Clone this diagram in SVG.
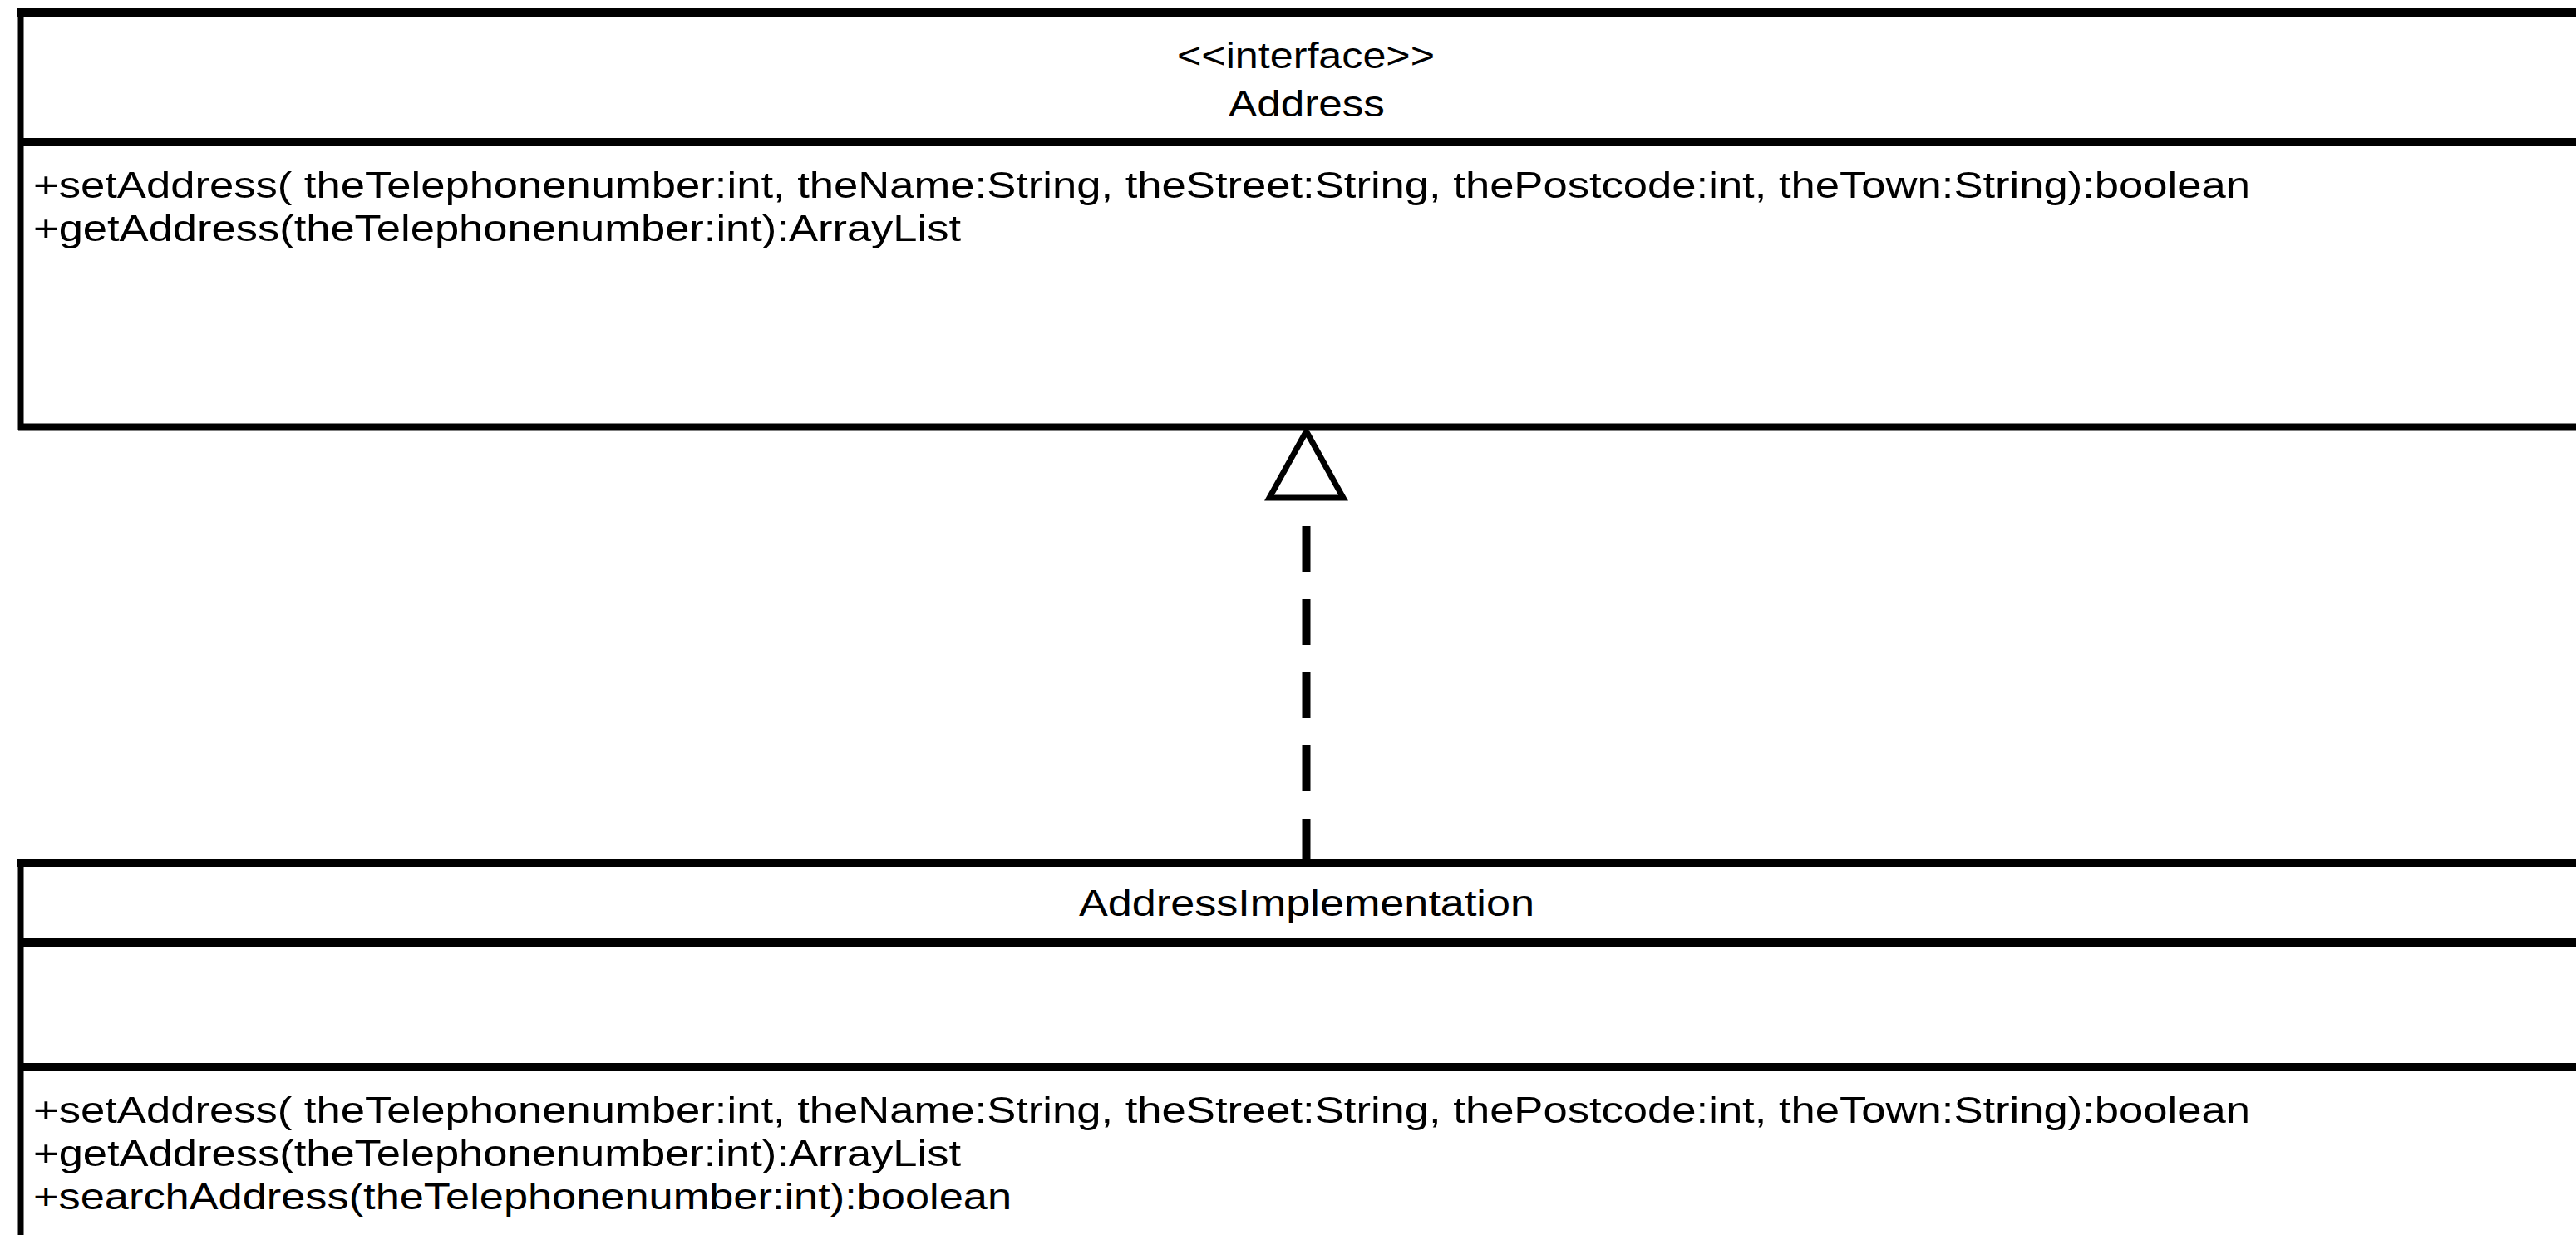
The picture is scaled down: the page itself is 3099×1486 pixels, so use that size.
<svg xmlns="http://www.w3.org/2000/svg" width="3099" height="1486" viewBox="0 0 3099 1486">
  <style>
    .edge { stroke: #000; stroke-width: 10; fill: none; }
    .side { stroke: #000; stroke-width: 7; fill: none; }
    .txt { font-family: "Liberation Sans", Arial, sans-serif; font-size: 44px; fill: #000; }
    .mid { text-anchor: middle; }
    .dash { stroke: #000; stroke-width: 10; stroke-dasharray: 55 33; fill: none; }
    .head { stroke: #000; stroke-width: 7; fill: #fff; stroke-linejoin: miter; }
  </style>
  <rect width="3099" height="1486" fill="#fff"/>

  <!-- interface Address -->
  <g id="address">
    <line class="edge" x1="20" y1="15.5" x2="3110" y2="15.5" style="stroke-width:11"/>
    <line class="side" x1="25" y1="10" x2="25" y2="517"/>
    <line class="edge" x1="22" y1="171" x2="3110" y2="171"/>
    <line class="edge" x1="22" y1="513.5" x2="3110" y2="513.5" style="stroke-width:8"/>
    <text class="txt mid" x="1571" y="82" textLength="310" lengthAdjust="spacingAndGlyphs">&lt;&lt;interface&gt;&gt;</text>
    <text class="txt mid" x="1572" y="140" textLength="188" lengthAdjust="spacingAndGlyphs">Address</text>
    <text class="txt" x="40" y="238" textLength="2667" lengthAdjust="spacingAndGlyphs">+setAddress( theTelephonenumber:int, theName:String, theStreet:String, thePostcode:int, theTown:String):boolean</text>
    <text class="txt" x="40" y="290" textLength="1116" lengthAdjust="spacingAndGlyphs">+getAddress(theTelephonenumber:int):ArrayList</text>
  </g>

  <!-- class AddressImplementation -->
  <g id="address-implementation">
    <line class="edge" x1="20" y1="1038" x2="3110" y2="1038"/>
    <line class="side" x1="25" y1="1033" x2="25" y2="1490"/>
    <line class="edge" x1="22" y1="1134" x2="3110" y2="1134"/>
    <line class="edge" x1="22" y1="1284" x2="3110" y2="1284"/>
    <text class="txt mid" x="1572" y="1102" textLength="548" lengthAdjust="spacingAndGlyphs">AddressImplementation</text>
    <text class="txt" x="40" y="1351" textLength="2667" lengthAdjust="spacingAndGlyphs">+setAddress( theTelephonenumber:int, theName:String, theStreet:String, thePostcode:int, theTown:String):boolean</text>
    <text class="txt" x="40" y="1403" textLength="1116" lengthAdjust="spacingAndGlyphs">+getAddress(theTelephonenumber:int):ArrayList</text>
    <text class="txt" x="40" y="1455" textLength="1177" lengthAdjust="spacingAndGlyphs">+searchAddress(theTelephonenumber:int):boolean</text>
  </g>

  <!-- realization: AddressImplementation implements Address -->
  <g id="connectors">
    <line class="dash" x1="1571.5" y1="633" x2="1571.5" y2="1036"/>
    <polygon class="head" points="1571.5,519 1527,599 1616,599"/>
  </g>
</svg>
